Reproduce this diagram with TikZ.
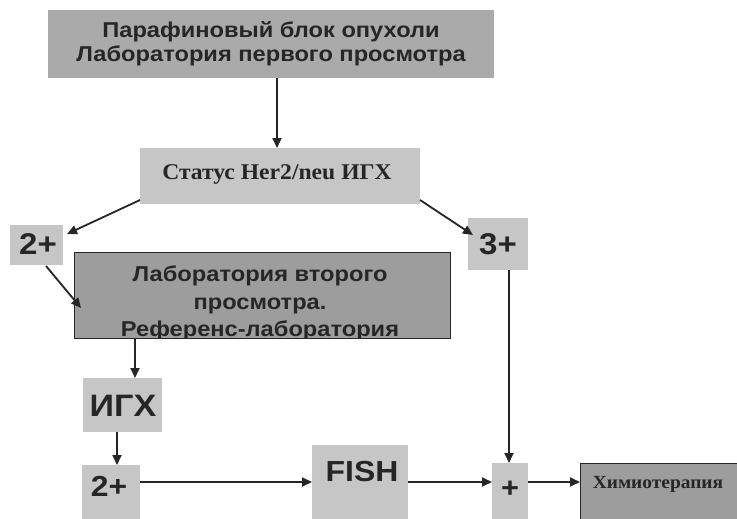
\documentclass[tikz,border=0pt]{standalone}
\usepackage{fontspec}
\setmainfont{Liberation Sans}
\newfontfamily\wsans[FakeStretch=1.1]{Liberation Sans}
\newfontfamily\wserif[FakeStretch=1.05]{Liberation Serif}
\usetikzlibrary{arrows.meta}
\definecolor{boxdark}{HTML}{AAAAAA}
\definecolor{boxmid}{HTML}{9D9D9D}
\definecolor{boxlight}{HTML}{C6C6C6}
\definecolor{ink}{HTML}{262626}
\tikzset{
  x=1pt, y=-1pt,
  box/.style={inner sep=0pt, anchor=north west},
  txt/.style={inner sep=0pt, text=ink, align=center},
  conn/.style={draw=ink, line width=1.8pt, -{Triangle[length=10pt,width=9pt]}},
}
\begin{document}
\begin{tikzpicture}
\useasboundingbox (0,0) rectangle (737,519);
\clip (0,0) rectangle (737,519);
\fill[white] (0,0) rectangle (737,519);
% boxes
\node[box, fill=boxdark, minimum width=446pt, minimum height=68pt] (top) at (48,10) {};
\node[txt, font=\wsans\fontsize{21.5}{24}\selectfont\bfseries] (toptxt) at (271,44) {Парафиновый блок опухоли\\Лаборатория первого просмотра};
\node[box, fill=boxlight, minimum width=280pt, minimum height=56pt] (status) at (140,148) {};
\node[txt, font=\wserif\fontsize{22.5}{25}\selectfont\bfseries] (statustxt) at (277,174) {Статус Her2/neu ИГХ};
\node[box, fill=boxlight, minimum width=53pt, minimum height=40pt] (p2a) at (10,225) {};
\node[txt, font=\wsans\fontsize{30}{32}\selectfont\bfseries] (p2atxt) at (38,244) {2+};
\node[box, fill=boxlight, minimum width=60pt, minimum height=52pt] (p3) at (468,218) {};
\node[txt, font=\wsans\fontsize{30}{32}\selectfont\bfseries] (p3txt) at (498,244) {3+};
\node[box, fill=boxmid, minimum width=376pt, minimum height=86pt] (lab2) at (74,252) {};
\begin{scope}
\clip (lab2.north west) rectangle (lab2.south east);
\node[txt, font=\wsans\fontsize{21.5}{27.5}\selectfont\bfseries, anchor=north] (lab2txt) at (260,266) {Лаборатория второго\\просмотра.\\Референс-лаборатория};
\end{scope}
\draw[ink, line width=1pt] (lab2.north west) rectangle (lab2.south east);
\node[box, fill=boxlight, minimum width=79pt, minimum height=54pt] (igx) at (83,378) {};
\node[txt, font=\wsans\fontsize{31}{33}\selectfont\bfseries] (igxtxt) at (123,406) {ИГХ};
\node[box, fill=boxlight, minimum width=58pt, minimum height=70pt] (p2b) at (82,465) {};
\node[txt, font=\wsans\fontsize{29}{31}\selectfont\bfseries] (p2btxt) at (109,486) {2+};
\node[box, fill=boxlight, minimum width=96pt, minimum height=90pt] (fish) at (312,445) {};
\node[txt, font=\wsans\fontsize{29}{31}\selectfont\bfseries] (fishtxt) at (362,472) {FISH};
\node[box, fill=boxlight, minimum width=36pt, minimum height=70pt] (plus) at (492,463) {};
\node[txt, font=\wsans\fontsize{28}{30}\selectfont\bfseries] (plustxt) at (510,489) {+};
\node[box, fill=boxmid, draw=ink, line width=1pt, minimum width=170pt, minimum height=70pt] (chemo) at (580,463) {};
\node[txt, font=\wserif\fontsize{18.5}{20}\selectfont\bfseries] (chemotxt) at (658,484) {Химиотерапия};
% connector end points
\coordinate (sa) at (140,200);
\coordinate (sb) at (420,200);
\coordinate (ta) at (67,234);
\coordinate (tb) at (473,235);
\coordinate (ua) at (46,266);
\coordinate (ub) at (81,308);
% connectors
\draw[conn] (top.south -| 277,0) -- (status.north -| 277,0);
\draw[conn] (sa) -- (ta);
\draw[conn] (sb) -- (tb);
\draw[conn] (ua) -- (ub);
\draw[conn] (lab2.south -| 135,0) -- (igx.north -| 135,0);
\draw[conn] (igx.south -| 117,0) -- (p2b.north -| 117,0);
\draw[conn] (p2b.north east |- 0,482) -- (fish.west |- 0,482);
\draw[conn] (fish.east |- 0,482) -- (plus.west |- 0,482);
\draw[conn] (plus.east |- 0,482) -- (chemo.west |- 0,482);
\draw[conn] (p3.south -| 509,0) -- (plus.north -| 509,0);
\end{tikzpicture}
\end{document}
